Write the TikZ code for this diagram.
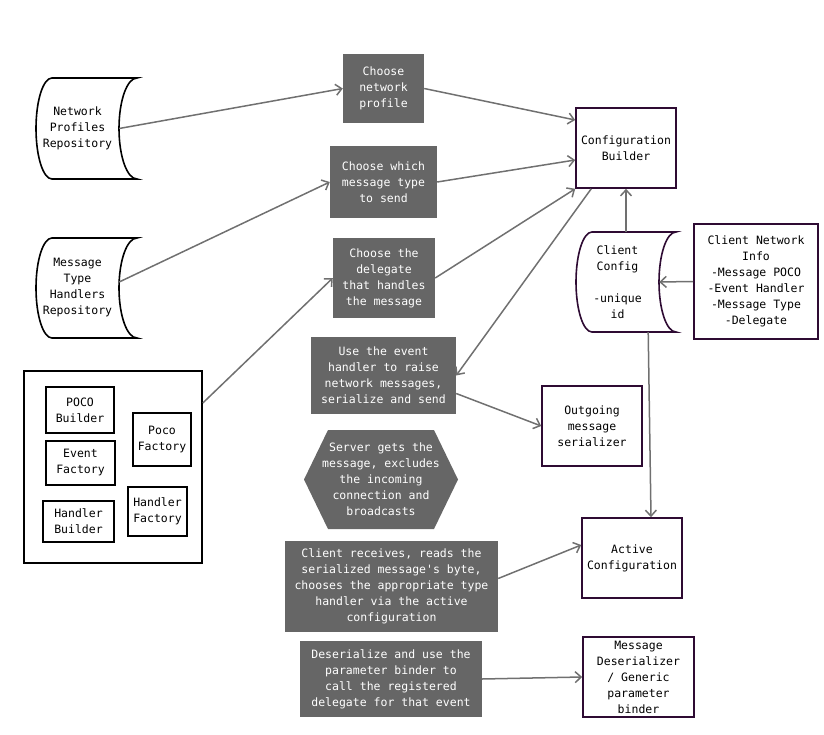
\documentclass[tikz,border=0pt]{standalone}
\usepackage{fontspec}
\setmonofont{DejaVu Sans Mono}
\usepackage{xcolor}
\usepackage{tikz}
\usetikzlibrary{arrows.meta,calc}
\definecolor{boxgray}{HTML}{666666}
\definecolor{linegray}{HTML}{707070}
\definecolor{edgepurple}{HTML}{2E0B33}

\begin{document}
\begin{tikzpicture}[x=1pt,y=-1pt,>={Straight Barb[length=6pt,width=11pt]},font=\ttfamily\fontsize{11.5}{16}\selectfont]
\tikzstyle{plain}=[inner sep=0pt,align=center]
\tikzstyle{gbox}=[plain,fill=boxgray,text=white]
\tikzstyle{pbox}=[plain,draw=edgepurple,line width=1.6pt,fill=white]
\tikzstyle{kbox}=[plain,draw=black,line width=1.6pt]
\tikzstyle{link}=[->,draw=linegray,line width=1.5pt]
\useasboundingbox (0,0) rectangle (824,735);

% storage shapes
\draw[line width=1.6pt] (52,78) arc[start angle=90,end angle=270,x radius=16pt,y radius=50.5pt] -- (137,179) arc[start angle=270,end angle=90,x radius=18pt,y radius=50.5pt] -- cycle;
\draw[line width=1.6pt] (52,238) arc[start angle=90,end angle=270,x radius=16pt,y radius=50pt] -- (137,338) arc[start angle=270,end angle=90,x radius=18pt,y radius=50pt] -- cycle;
\draw[line width=1.6pt,edgepurple] (592,232) arc[start angle=90,end angle=270,x radius=16pt,y radius=50pt] -- (676,332) arc[start angle=270,end angle=90,x radius=17pt,y radius=50pt] -- cycle;
\node[plain,minimum width=83pt,minimum height=101pt] (npr) at (77.5,128.5) {Network\\Profiles\\Repository};
\node[plain,minimum width=83pt,minimum height=100pt] (mthr) at (77.5,288) {Message\\Type\\Handlers\\Repository};
\node[plain,minimum width=83pt,minimum height=100pt] (cc) at (617.5,282) {Client\\Config\\[16pt]-unique\\id};

% factories
\node[kbox,minimum width=178pt,minimum height=192pt] (fac) at (113,467) {};
\node[kbox,minimum width=68pt,minimum height=46pt] (pocob) at (80,410) {POCO\\Builder};
\node[kbox,minimum width=69pt,minimum height=44pt] (evf) at (80.5,463) {Event\\Factory};
\node[kbox,minimum width=71pt,minimum height=41pt] (hb) at (78.5,521.5) {Handler\\Builder};
\node[kbox,minimum width=58pt,minimum height=53pt] (pocof) at (162,439.5) {Poco\\Factory};
\node[kbox,minimum width=59pt,minimum height=49pt] (hf) at (157.5,511.5) {Handler\\Factory};

% steps
\node[gbox,minimum width=81pt,minimum height=69pt] (cnp) at (383.5,88.5) {Choose\\network\\profile};
\node[gbox,minimum width=107pt,minimum height=72pt] (cmt) at (383.5,182) {Choose which\\message type\\to send};
\node[gbox,minimum width=102pt,minimum height=80pt] (cdl) at (384,278) {Choose the\\delegate\\that handles\\the message};
\node[gbox,minimum width=145pt,minimum height=77pt] (ue) at (383.5,375.5) {Use the event\\handler to raise\\network messages,\\serialize and send};
\fill[boxgray] (304,479.5) -- (328,430) -- (434,430) -- (458,479.5) -- (434,529) -- (328,529) -- cycle;
\node[plain,text=white] (srv) at (381,479.5) {Server gets the\\message, excludes\\the incoming\\connection and\\broadcasts};
\node[gbox,minimum width=213pt,minimum height=91pt] (cr) at (391.5,586.5) {Client receives, reads the\\serialized message's byte,\\chooses the appropriate type\\handler via the active\\configuration};
\node[gbox,minimum width=182pt,minimum height=76pt] (des) at (391,679) {Deserialize and use the\\parameter binder to\\call the registered\\delegate for that event};

% configuration side
\node[pbox,minimum width=100pt,minimum height=80pt] (cb) at (626,148) {Configuration\\Builder};
\node[pbox,minimum width=124pt,minimum height=115pt] (cni) at (756,281.5) {Client Network\\Info\\-Message POCO\\-Event Handler\\-Message Type\\-Delegate};
\node[pbox,minimum width=100pt,minimum height=80pt] (oms) at (592,426) {Outgoing\\message\\serializer};
\node[pbox,minimum width=100pt,minimum height=80pt] (ac) at (632,558) {Active\\Configuration};
\node[pbox,minimum width=111pt,minimum height=80pt] (md) at (638.5,677) {Message\\Deserializer\\/ Generic\\parameter\\binder};

% links
\draw[link] (npr.east) -- (cnp.west);
\draw[link] (cnp.east) -- ([yshift=28pt]cb.west);
\draw[link] ([yshift=6pt]mthr.east) -- (cmt.west);
\draw[link] (cmt.east) -- ([yshift=-12pt]cb.west);
\draw[link] ([yshift=64pt]fac.east) -- (cdl.west);
\draw[link] (cdl.east) -- (cb.south west);
\draw[link] ([xshift=16pt]cb.south west) -- (ue.east);
\draw[link] (cc.north -| cb.south) -- (cb.south);
\draw[link] (cni.west) -- (cc.east);
\draw[link] ([xshift=-11pt]cc.south east) -- ([xshift=19pt]ac.north);
\draw[link] ([yshift=-18pt]ue.east) -- (oms.west);
\draw[link] ([yshift=8pt]cr.east) -- ([yshift=13pt]ac.west);
\draw[link] (des.east) -- (md.west);
\end{tikzpicture}
\end{document}
